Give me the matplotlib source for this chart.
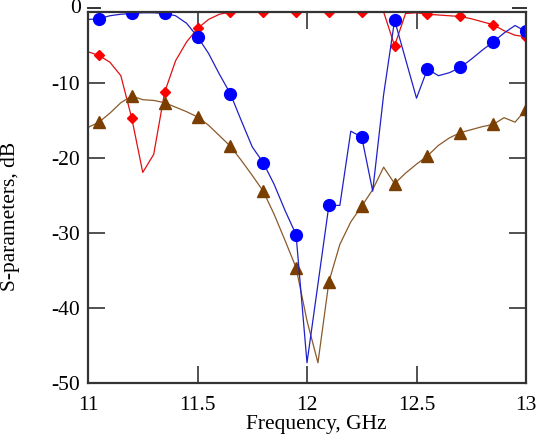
import numpy as np
import matplotlib
matplotlib.use("Agg")
import matplotlib.pyplot as plt

# frequency grid, GHz (line vertices every 0.05 GHz)
freq = np.round(np.arange(11.0, 13.0001, 0.05), 2)

# S-parameters, dB
s_blue = [-1.5, -1.4, -1.0, -0.8, -0.7, -0.6, -0.6, -0.7, -1.0, -2.0,
          -3.8, -6.0, -8.8, -11.4, -15.0, -18.5, -20.6, -23.5, -27.0, -30.2,
          -47.3, -36.8, -26.3, -26.3, -16.4, -17.2, -24.4, -11.5, -1.6, -6.8,
          -12.0, -8.1, -9.0, -8.6, -7.9, -6.8, -5.6, -4.5, -3.3, -2.3,
          -3.1]
s_red = [-5.8, -6.3, -7.2, -9.0, -14.7, -21.9, -19.5, -11.2, -7.0, -4.5,
         -2.7, -1.5, -0.8, -0.5, -0.5, -0.5, -0.5, -0.5, -0.5, -0.5,
         -0.5, -0.5, -0.5, -0.5, -0.5, -0.5, -0.5, -0.5, -5.0, -0.7,
         -0.6, -0.8, -0.9, -1.0, -1.1, -1.4, -1.8, -2.2, -3.0, -3.6,
         -3.8]
s_brown = [-15.9, -15.2, -14.0, -12.6, -11.7, -12.2, -12.3, -12.6, -13.2, -13.8,
           -14.5, -15.6, -17.0, -18.4, -20.3, -22.3, -24.4, -27.5, -31.0, -34.6,
           -41.7, -47.3, -36.5, -31.5, -28.5, -26.4, -24.2, -21.2, -23.4, -22.0,
           -20.8, -19.7, -18.3, -17.3, -16.6, -16.2, -15.8, -15.5, -14.6, -15.2,
           -13.5]

# markers sit on every third vertex, starting at 11.05 GHz
mark_every = (1, 3)

xticks = [11, 11.5, 12, 12.5, 13]
xtick_labels = ["11", "11.5", "12", "12.5", "13"]
yticks = [-50, -40, -30, -20, -10]
ytick_labels = ["-50", "-40", "-30", "-20", "-10"]

plt.rcParams["font.family"] = ["Liberation Serif", "DejaVu Serif"]
plt.rcParams["axes.unicode_minus"] = False

fig = plt.figure(figsize=(5.37, 4.46), dpi=100)
ax = fig.add_axes([88 / 537, 63 / 446, 438 / 537, 371 / 446])

ax.plot(freq, s_red, color="#e01010", lw=0.9, marker="D", ms=5.5,
        mfc="#ff0000", mec="#ff0000", markevery=mark_every)
ax.plot(freq, s_brown, color="#8a5a2a", lw=0.9, marker="^", ms=8,
        mfc="#7a3f00", mec="#7a3f00", markevery=mark_every)
ax.plot(freq, s_blue, color="#2020c8", lw=0.9, marker="o", ms=8.5,
        mfc="#0000ff", mec="#0000ff", markevery=mark_every)

ax.set_xlim(11, 13)
ax.set_ylim(-50, -0.5)

ax.set_xticks(xticks)
ax.set_xticklabels(xtick_labels)
ax.set_yticks(yticks)
ax.set_yticklabels(ytick_labels)
ax.tick_params(axis="both", which="both", direction="in", length=12,
               width=1.2, color="#333333", labelsize=15.5,
               top=True, right=True)
ax.tick_params(axis="x", pad=9)
ax.tick_params(axis="y", pad=6)

for side in ["left", "bottom", "right", "top"]:
    ax.spines[side].set_linewidth(1.6)
    ax.spines[side].set_color("#333333")

# the 0 dB tick sits just above the plot frame
trans_l = ax.get_yaxis_transform()
ax.plot([0, 0.027], [0, 0], color="#333333", lw=1.4, transform=trans_l, clip_on=False)
ax.plot([0.97, 1.0], [0, 0], color="#333333", lw=1.4, transform=trans_l, clip_on=False)
ax.text(-0.016, 0, "0", transform=trans_l, ha="right", va="center", fontsize=15.5)

ax.set_xlabel("Frequency, GHz", fontsize=15.5)
ax.xaxis.set_label_coords(0.52, -0.085)
ax.set_ylabel("S-parameters, dB", fontsize=15.5)
ax.yaxis.set_label_coords(-0.155, 0.45)

fig.savefig("out.png", dpi=100)
